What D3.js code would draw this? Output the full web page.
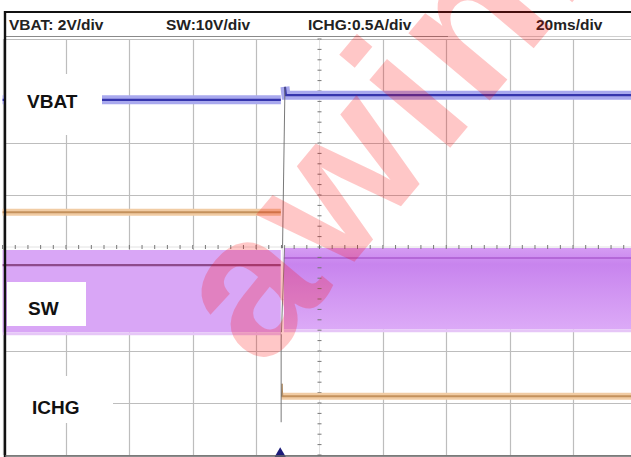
<!DOCTYPE html>
<html><head><meta charset="utf-8">
<script src="https://cdn.jsdelivr.net/npm/d3@7/dist/d3.min.js"></script>
<style>html,body{margin:0;padding:0;background:#fff;overflow:hidden}</style>
</head><body>
<svg id="c" width="631" height="457"></svg>
<script>
// ---------------- data ----------------
// horizontal: 10 divisions x 20 ms, trigger at centre; vertical: 8 divisions
const timeDivs = [-100, -80, -60, -40, -20, 0, 20, 40, 60, 80, 100];   // ms
const levelDivs = [-4, -3, -2, -1, 0, 1, 2, 4];                        // div (the +3 line is not visible)
const headerLabels = ["VBAT: 2V/div", "SW:10V/div", "ICHG:0.5A/div", "20ms/div"];
const channelLabels = ["VBAT", "SW", "ICHG"];

// VBAT trace (levels in divisions from screen centre)
const vbatTime  = [-100, -12.2, null, -10.9, -10.6, 100];
const vbatLevel = [2.83, 2.83, null, 3.08, 2.92, 2.92];

// SW switching envelope: top, mean line, bottom (divisions)
const swTime   = [-100, -12.2, null, -11.3, 100];
const swTop    = [-0.06, -0.06, null, -0.02, -0.02];
const swMean   = [-0.35, -0.35, null, -0.21, -0.21];
const swBottom = [-1.64, -1.64, null, -1.58, -1.58];

// ICHG trace
const ichgTime  = [-100, -12.2, null, -12.1, 100];
const ichgLevel = [0.67, 0.67, null, -2.87, -2.87];
const ichgSpikeTime  = [-12.0, -11.8, -11.6];
const ichgSpikeLevel = [-2.87, -2.63, -2.87];

// transition edge drawn by the scope between the two acquisitions
const edgeTime  = [-10.9, -12.1, -12.1];
const edgeLevel = [3.08, -1.79, -3.37];

const triggerTime = -12.4;   // ms, trigger marker at the bottom
const watermark = "awinic";

// ---------------- layout ----------------
const svg = d3.select("#c");
const x = d3.scaleLinear().domain([-100, 100]).range([2.6, 636.4]);
const y = d3.scaleLinear().domain([-4, 4]).range([455, 39]);

const gridColor = "#bdbdbd";
const g = svg.append("g");

// grid
g.selectAll("line.v").data(timeDivs.filter(d => d !== 0)).join("line")
  .attr("x1", d => Math.round(x(d)) + 0.5).attr("x2", d => Math.round(x(d)) + 0.5)
  .attr("y1", y(4)).attr("y2", y(-4)).attr("stroke", gridColor).attr("stroke-width", 1.2);
g.selectAll("line.h").data(levelDivs.filter(d => d !== 0)).join("line")
  .attr("y1", d => Math.round(y(d)) + 0.5).attr("y2", d => Math.round(y(d)) + 0.5)
  .attr("x1", 5).attr("x2", 631).attr("stroke", gridColor).attr("stroke-width", 1.2);

// centre axes (faint line + minor ticks)
g.append("line").attr("x1", x(0)).attr("x2", x(0)).attr("y1", y(4)).attr("y2", y(-4))
  .attr("stroke", "#e2e2e2").attr("stroke-width", 1);
g.append("line").attr("x1", 5).attr("x2", 631).attr("y1", y(0)).attr("y2", y(0))
  .attr("stroke", "#e2e2e2").attr("stroke-width", 1);
const minorT = d3.range(-100, 100.01, 4);
const minorV = d3.range(-4, 4.01, 0.2);

// SW envelope
const swData = swTime.map((t, i) => ({t, top: swTop[i], mean: swMean[i], bot: swBottom[i]}));
const defs = svg.append("defs");
const grad = defs.append("linearGradient").attr("id", "swR").attr("x1", 0).attr("x2", 0).attr("y1", 0).attr("y2", 1);
grad.append("stop").attr("offset", "0%").attr("stop-color", "#d59cf3");
grad.append("stop").attr("offset", "20%").attr("stop-color", "#c884ee");
grad.append("stop").attr("offset", "100%").attr("stop-color", "#dcaaf7");
const area = d3.area().defined(d => d.t !== null).x(d => x(d.t)).y0(d => y(d.bot)).y1(d => y(d.top));
g.append("path").datum(swData.slice(0, 2)).attr("d", area).attr("fill", "#d9a6f6");
g.append("path").datum(swData.slice(3)).attr("d", area).attr("fill", "url(#swR)");
// fuzzy bottom edge
g.append("path").datum(swData).attr("d", d3.line().defined(d => d.t !== null).x(d => x(d.t)).y(d => y(d.bot) + 1.5))
  .attr("fill", "none").attr("stroke", "#e6c6f7").attr("stroke-width", 3);
g.append("path").datum(swData.slice(0, 2)).attr("d", d3.line().x(d => x(d.t)).y(d => y(d.mean)))
  .attr("fill", "none").attr("stroke", "#8e4a8c").attr("stroke-width", 2.2);
g.append("path").datum(swData.slice(3)).attr("d", d3.line().x(d => x(d.t)).y(d => y(d.mean)))
  .attr("fill", "none").attr("stroke", "#b468d8").attr("stroke-width", 2);

// ticks on the centre axes
g.selectAll("line.mt").data(minorT).join("line")
  .attr("x1", d => x(d)).attr("x2", d => x(d)).attr("y1", y(0) - 2).attr("y2", y(0) + 2)
  .attr("stroke", "#777").attr("stroke-width", 1);
g.selectAll("line.mv").data(minorV).join("line")
  .attr("y1", d => y(d)).attr("y2", d => y(d)).attr("x1", x(0) - 2).attr("x2", x(0) + 2)
  .attr("stroke", "#777").attr("stroke-width", 1);

// trace helper: light band + dark core
function trace(ts, vs, band, core, bw, cw) {
  const data = ts.map((t, i) => ({t, v: vs[i]}));
  const ln = d3.line().defined(d => d.t !== null).x(d => x(d.t)).y(d => y(d.v));
  if (bw > 0) g.append("path").datum(data).attr("d", ln).attr("fill", "none")
    .attr("stroke", band).attr("stroke-width", bw);
  g.append("path").datum(data).attr("d", ln).attr("fill", "none")
    .attr("stroke", core).attr("stroke-width", cw);
}
trace(vbatTime, vbatLevel, "#a9a9ee", "#3535ad", 9, 2.2);
trace(ichgTime, ichgLevel, "#f1cca4", "#c4915c", 7, 2);
trace(ichgSpikeTime, ichgSpikeLevel, null, "#b08a60", 0, 1);

// transition edge
g.append("path").datum(edgeTime.map((t, i) => ({t, v: edgeLevel[i]})))
  .attr("d", d3.line().x(d => x(d.t)).y(d => y(d.v)))
  .attr("fill", "none").attr("stroke", "#6a6a6a").attr("stroke-width", 0.9);
// white gap in SW fill at the edge
g.append("rect").attr("x", x(-12.2)).attr("width", x(-11.3) - x(-12.2))
  .attr("y", y(swTop[0]) - 2).attr("height", y(swBottom[0]) - y(swTop[0]) + 4).attr("fill", "#fff").attr("opacity", 0.85);
g.append("line").attr("x1", x(-11.0)).attr("x2", x(-12.0)).attr("y1", y(swTop[3]) - 3).attr("y2", y(swBottom[3]) + 3)
  .attr("stroke", "#777").attr("stroke-width", 0.9);

// channel label boxes
const boxes = [
  {x: 6, y: 74, w: 96, h: 61, tx: 27, ty: 108},
  {x: 7, y: 282, w: 79, h: 44, tx: 28, ty: 315},
  {x: 6, y: 376, w: 107, h: 47, tx: 32, ty: 414}
];
channelLabels.forEach((lab, i) => {
  const b = boxes[i];
  g.append("rect").attr("x", b.x).attr("y", b.y).attr("width", b.w).attr("height", b.h).attr("fill", "#fff");
  g.append("text").attr("x", b.tx).attr("y", b.ty).text(lab)
    .attr("font-family", "Liberation Sans, Arial, sans-serif").attr("font-weight", "bold")
    .attr("font-size", 19).attr("fill", "#111");
});

// trigger marker
g.append("path").attr("d", d3.symbol(d3.symbolTriangle, 60)())
  .attr("transform", `translate(${x(triggerTime)},${y(-4) - 1})`).attr("fill", "#1c1c7a");

// header
svg.append("rect").attr("x", 5).attr("y", 12).attr("width", 626).attr("height", 25).attr("fill", "#fff");
const headerX = [9, 166, 308, 536];
defs.append("clipPath").attr("id", "hc").append("rect").attr("x", 0).attr("y", 0).attr("width", 603).attr("height", 40);
svg.append("g").attr("clip-path", "url(#hc)").selectAll("text").data(headerLabels).join("text")
  .attr("x", (d, i) => headerX[i]).attr("y", 30).text(d => d)
  .attr("font-family", "Liberation Sans, Arial, sans-serif").attr("font-weight", "bold")
  .attr("font-size", 15.5).attr("fill", "#222");
svg.append("line").attr("x1", 5).attr("x2", 448).attr("y1", 36.5).attr("y2", 36.5).attr("stroke", "#8a8a8a").attr("stroke-width", 1.2);
svg.append("line").attr("x1", 448).attr("x2", 631).attr("y1", 36.5).attr("y2", 36.5).attr("stroke", "#cfcfcf").attr("stroke-width", 1.2);

// frame
svg.append("line").attr("x1", 4).attr("x2", 631).attr("y1", 12).attr("y2", 12).attr("stroke", "#111").attr("stroke-width", 2);
svg.append("line").attr("x1", 5).attr("x2", 5).attr("y1", 11).attr("y2", 457).attr("stroke", "#111").attr("stroke-width", 2.4);
svg.append("line").attr("x1", 5).attr("x2", 631).attr("y1", 456).attr("y2", 456).attr("stroke", "#666").attr("stroke-width", 1.5);

// watermark (runs off the top edge, as in the reference)
svg.append("text").text(watermark)
  .attr("transform", "translate(262,372) rotate(-50)")
  .attr("font-family", "Liberation Sans, Arial, sans-serif").attr("font-size", 200)
  .attr("font-weight", "bold").attr("letter-spacing", 6)
  .attr("fill", "#ff0000").attr("fill-opacity", 0.22);
</script>
</body></html>
